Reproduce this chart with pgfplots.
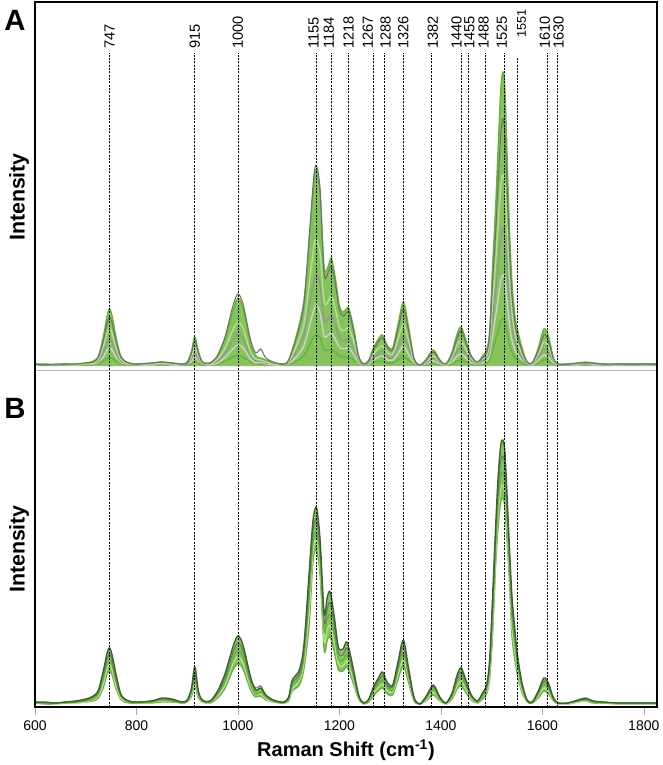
\documentclass[border=0pt]{standalone}
\usepackage{fontspec}
\setmainfont{Liberation Sans}
\usepackage{pgfplots}
\pgfplotsset{compat=1.18}
\usepackage{pgfplotstable}
\usepgfplotslibrary{fillbetween}

\definecolor{gMain}{RGB}{104,178,58}
\definecolor{gFill}{RGB}{132,196,90}
\definecolor{gLight}{RGB}{182,225,146}
\definecolor{gDark}{RGB}{58,98,44}
\definecolor{gGray}{RGB}{112,112,112}
\definecolor{gMGray}{RGB}{150,150,150}
\definecolor{gLGray}{RGB}{210,210,210}

% spectra of panel A (height above baseline)
\pgfplotstableread{
x a1 a2 a3 a4 a5 a6
600 2 2 1 2 1 1
620 2 1 2 1 2 1
640 1 2 1 1 1 1
660 2 2 2 1 1 1
680 2 2 1 2 1 1
700 3 3 2 2 2 1
715 5 4 3 3 2 2
725 10 9 7 5 4 2
735 30 26 20 14 9 5
742 50 43 33 24 16 8
747 57 49 37 27 18 9
752 50 43 33 24 16 8
760 28 24 18 13 9 5
770 9 8 6 4 3 2
785 3 3 2 2 2 1
800 2 2 2 1 1 1
830 3 3 2 2 1 1
850 4 4 3 2 2 1
870 3 3 2 2 1 1
890 2 2 2 1 1 1
900 4 3 3 2 2 1
908 14 12 9 7 4 2
915 29 25 19 14 9 5
922 15 13 10 7 5 3
930 4 4 3 2 2 1
945 3 3 2 2 1 1
960 10 11 7 5 3 2
975 28 30 18 13 9 5
990 55 60 36 26 17 9
1000 68 72 44 32 21 11
1010 58 62 38 27 18 9
1025 22 26 14 10 7 4
1035 10 13 7 5 3 2
1045 8 17 6 5 4 2
1055 6 8 4 3 2 1
1070 3 4 2 2 1 1
1090 2 2 2 1 1 1
1100 6 6 4 3 2 1
1115 30 28 20 14 9 5
1130 65 62 42 31 20 10
1142 135 140 88 63 42 22
1150 185 192 120 87 57 30
1155 196 200 127 92 61 31
1162 172 176 112 81 53 28
1170 98 92 64 46 30 16
1178 100 94 65 47 31 16
1184 108 100 70 51 33 17
1192 88 82 57 41 27 14
1200 60 56 39 28 19 10
1208 54 50 35 25 17 9
1218 58 54 38 27 18 9
1228 38 35 25 18 12 6
1238 10 9 7 5 3 2
1248 2 2 2 1 1 1
1258 6 5 4 3 2 1
1267 18 16 12 8 6 3
1278 28 25 18 13 9 5
1285 31 28 20 15 10 5
1295 20 18 13 9 6 3
1305 18 16 12 8 6 3
1315 40 36 26 19 12 6
1326 64 57 42 30 20 10
1336 40 36 26 19 12 6
1347 8 7 5 4 3 2
1358 1 1 1 1 1 1
1370 6 5 4 3 2 1
1385 16 14 10 8 5 3
1398 6 5 4 3 2 1
1410 2 2 1 1 1 1
1422 14 12 9 7 4 2
1432 32 28 21 15 10 5
1440 39 35 25 18 12 6
1450 25 22 16 12 8 4
1460 10 9 7 5 3 2
1472 4 4 3 2 2 1
1482 10 8 7 5 3 2
1490 16 13 10 8 5 3
1496 35 29 23 16 11 6
1502 100 84 65 47 31 16
1508 160 134 104 75 50 26
1513 220 185 143 103 68 35
1518 275 231 179 129 85 44
1522 294 247 191 138 91 47
1526 280 235 182 132 87 45
1530 220 185 143 103 68 35
1535 140 118 91 66 43 22
1540 85 71 55 40 26 14
1546 50 42 33 24 16 8
1551 36 30 23 17 11 6
1560 18 15 12 8 6 3
1570 4 4 3 2 2 1
1580 3 3 2 2 1 1
1592 18 15 12 8 6 3
1603 37 31 24 17 11 6
1612 30 25 20 14 9 5
1622 8 7 5 4 3 2
1632 2 2 2 1 1 1
1650 2 2 2 1 1 1
1670 3 3 2 2 1 1
1685 4 3 3 2 2 1
1700 3 3 2 2 1 1
1720 2 2 2 1 1 1
1750 2 2 1 1 1 1
1780 2 2 2 1 1 1
1800 2 2 1 1 1 1
1826 2 2 2 1 1 1
}\specA

% spectra of panel B
\pgfplotstableread{
x b1 b2 b3 b4 b5
600 3 3 2 2 2
620 3 2 2 2 1
640 2 2 2 1 1
660 3 3 2 2 2
680 4 3 3 2 2
700 6 5 4 3 3
715 9 8 6 5 4
725 15 13 11 9 7
735 35 31 27 22 18
742 52 47 42 36 31
747 57 51 46 40 34
752 50 45 40 35 30
760 30 26 23 19 16
770 10 9 8 6 5
785 4 4 3 3 2
800 3 3 2 2 2
830 4 4 3 3 2
850 7 6 5 4 3
870 6 5 4 4 3
890 3 3 2 2 2
900 5 4 4 3 3
908 16 14 12 10 8
915 38 30 26 22 18
922 14 12 11 9 7
930 5 4 4 3 3
945 4 4 3 3 2
960 14 12 11 9 7
975 32 28 24 20 17
990 58 52 46 41 35
1000 69 62 55 48 41
1010 60 54 48 42 36
1025 28 25 21 18 15
1035 15 17 11 10 8
1045 17 19 13 11 9
1055 10 10 8 6 5
1070 5 4 4 3 3
1090 3 3 2 2 2
1100 8 7 6 5 4
1107 25 22 19 16 14
1121 35 31 27 24 20
1130 60 54 48 42 36
1140 130 117 104 91 78
1148 185 174 163 154 144
1155 197 185 173 164 154
1162 165 155 145 137 129
1170 92 83 74 64 55
1176 108 97 86 76 65
1182 113 102 90 79 68
1190 88 79 70 62 53
1198 58 52 46 41 35
1207 56 50 45 39 34
1215 63 57 50 44 38
1226 40 36 32 28 24
1238 10 9 8 7 6
1248 2 2 2 2 1
1258 6 5 5 4 3
1267 18 16 14 12 9
1278 28 25 21 18 15
1285 33 29 25 21 17
1295 22 19 17 14 11
1305 20 18 15 13 10
1315 42 38 34 29 25
1326 65 59 52 46 39
1336 38 34 30 27 23
1347 8 7 6 5 4
1358 1 1 1 1 1
1370 8 7 6 5 4
1385 20 18 15 13 10
1398 8 7 6 5 4
1410 2 2 2 1 1
1422 12 11 9 8 6
1432 30 26 23 19 16
1440 37 33 28 24 19
1450 24 21 18 15 12
1460 10 9 8 6 5
1472 4 4 3 3 2
1482 12 11 9 8 6
1490 20 18 15 13 11
1496 45 40 35 30 26
1502 110 99 88 79 70
1508 180 169 158 149 140
1513 230 216 202 191 179
1518 260 244 229 216 203
1522 265 249 233 220 207
1526 255 240 224 212 199
1530 215 202 189 178 168
1535 160 150 141 133 125
1540 110 99 88 79 70
1546 75 68 60 53 45
1551 50 45 40 35 30
1560 22 20 17 14 12
1570 5 4 4 3 3
1580 3 3 2 2 2
1592 14 12 11 9 7
1603 27 24 21 17 14
1612 22 19 17 14 11
1622 7 6 5 4 4
1632 2 2 2 1 1
1650 2 2 2 1 1
1670 5 4 4 3 3
1685 7 6 5 4 4
1700 4 4 3 3 2
1720 3 3 2 2 2
1750 2 2 2 1 1
1780 2 2 2 1 1
1800 2 2 2 1 1
1826 2 2 2 1 1
}\specB

\newcommand\tickfont{\fontsize{10.5}{12}\selectfont}
\newcommand\peakfont{\fontsize{11}{13}\selectfont}

\pgfplotsset{
  panel/.style={
    scale only axis, width=466.5pt,
    xmin=600, xmax=1826, ytick=\empty,
    axis line style={draw=none},
  },
  spec/.style={smooth, line width=1pt},
  peakline/.style={black, line width=0.55pt, dash pattern=on 1.5pt off 1pt,
    unbounded coords=jump},
}
\tikzset{peaklabel/.style={rotate=90, anchor=west, inner sep=0pt, font=\peakfont}}

\begin{document}
\begin{tikzpicture}
\begin{axis}[panel, name=A, height=276pt, ymin=-4, ymax=364, xtick=\empty]
  \addplot[draw=none, fill=gFill, smooth] table[x=x, y=a1] {\specA} \closedcycle;
  \addplot[spec, gMain] table[x=x, y=a6] {\specA};
  \addplot[spec, gLGray] table[x=x, y=a5] {\specA};
  \addplot[spec, gMGray] table[x=x, y=a4] {\specA};
  \addplot[spec, gLight] table[x=x, y=a3] {\specA};
  \addplot[spec, gMain] table[x=x, y=a1] {\specA};
  \addplot[spec, gGray, line width=0.8pt] table[x=x, y=a2] {\specA};
  \addplot[peakline] coordinates {
    (747,-4) (747,313) (747,nan) (915,-4) (915,313) (915,nan)
    (1000,-4) (1000,313) (1000,nan) (1155,-4) (1155,313) (1155,nan)
    (1184,-4) (1184,313) (1184,nan) (1218,-4) (1218,313) (1218,nan)
    (1267,-4) (1267,313) (1267,nan) (1288,-4) (1288,313) (1288,nan)
    (1326,-4) (1326,313) (1326,nan) (1382,-4) (1382,313) (1382,nan)
    (1440,-4) (1440,313) (1440,nan) (1455,-4) (1455,313) (1455,nan)
    (1488,-4) (1488,313) (1488,nan) (1525,-4) (1525,313) (1525,nan)
    (1551,-4) (1551,308) (1551,nan) (1610,-4) (1610,313) (1610,nan)
    (1630,-4) (1630,313)
  };
  % labels, spread a little where they crowd
  \node[peaklabel] at (axis cs:747,317) {747};
  \node[peaklabel] at (axis cs:915,317) {915};
  \node[peaklabel] at (axis cs:1000,317) {1000};
  \node[peaklabel] at (axis cs:1149,317) {1155};
  \node[peaklabel] at (axis cs:1179,317) {1184};
  \node[peaklabel] at (axis cs:1218,317) {1218};
  \node[peaklabel] at (axis cs:1256,317) {1267};
  \node[peaklabel] at (axis cs:1291,317) {1288};
  \node[peaklabel] at (axis cs:1326,317) {1326};
  \node[peaklabel] at (axis cs:1384,317) {1382};
  \node[peaklabel] at (axis cs:1431,317) {1440};
  \node[peaklabel] at (axis cs:1456,317) {1455};
  \node[peaklabel] at (axis cs:1484,317) {1488};
  \node[peaklabel] at (axis cs:1520,317) {1525};
  \node[peaklabel, font=\fontsize{9.5}{11}\selectfont] at (axis cs:1559,328) {1551};
  \node[peaklabel] at (axis cs:1605,317) {1610};
  \node[peaklabel] at (axis cs:1632,317) {1630};
\end{axis}

\begin{axis}[panel, name=B, at={(A.south west)}, anchor=north west,
    height=252.75pt, ymin=-2, ymax=335,
    xtick={600,800,...,1800}, xtick pos=bottom, tick align=outside,
    major tick length=6pt, tick style={gray!70, line width=0.4pt},
    xticklabel style={font=\tickfont, yshift=-1pt},
    /pgf/number format/assume math mode=true,
    /pgf/number format/set thousands separator={}]
  \addplot[draw=none, smooth, name path=bt] table[x=x, y=b1] {\specB};
  \addplot[draw=none, smooth, name path=bb] table[x=x, y=b5] {\specB};
  \addplot[gFill] fill between[of=bt and bb];
  \addplot[spec, gMain] table[x=x, y=b5] {\specB};
  \addplot[spec, gLight] table[x=x, y=b4] {\specB};
  \addplot[spec, gMain] table[x=x, y=b3] {\specB};
  \addplot[spec, gGray, line width=0.8pt] table[x=x, y=b2] {\specB};
  \addplot[spec, gDark] table[x=x, y=b1] {\specB};
  \addplot[peakline] coordinates {
    (747,-2) (747,335) (747,nan) (915,-2) (915,335) (915,nan)
    (1000,-2) (1000,335) (1000,nan) (1155,-2) (1155,335) (1155,nan)
    (1184,-2) (1184,335) (1184,nan) (1218,-2) (1218,335) (1218,nan)
    (1267,-2) (1267,335) (1267,nan) (1288,-2) (1288,335) (1288,nan)
    (1326,-2) (1326,335) (1326,nan) (1382,-2) (1382,335) (1382,nan)
    (1440,-2) (1440,335) (1440,nan) (1455,-2) (1455,335) (1455,nan)
    (1488,-2) (1488,335) (1488,nan) (1525,-2) (1525,335) (1525,nan)
    (1551,-2) (1551,335) (1551,nan) (1610,-2) (1610,335) (1610,nan)
    (1630,-2) (1630,335)
  };
\end{axis}

\draw[gray!55, line width=0.6pt] (A.south west) -- (A.south east);
\draw[black, line width=0.9pt] (A.north west) rectangle (B.south east);

\node[font=\fontsize{22}{24}\selectfont\bfseries] at ([xshift=-15pt, yshift=-13.5pt]A.north west) {A};
\node[font=\fontsize{22}{24}\selectfont\bfseries] at ([xshift=-15pt, yshift=-28.5pt]B.north west) {B};
\node[rotate=90, font=\fontsize{16}{18}\selectfont\bfseries] at ([xshift=-12pt, yshift=-146.25pt]A.north west) {Intensity};
\node[rotate=90, font=\fontsize{16}{18}\selectfont\bfseries] at ([xshift=-12pt, yshift=-134.25pt]B.north west) {Intensity};
\node[font=\fontsize{15}{17}\selectfont\bfseries] at ([yshift=-32.25pt]B.south) {Raman Shift (cm\textsuperscript{-1})};

\pgfresetboundingbox
\path[use as bounding box] (-26.25pt,-296.25pt) rectangle (470.25pt,277.5pt);
\end{tikzpicture}
\end{document}
